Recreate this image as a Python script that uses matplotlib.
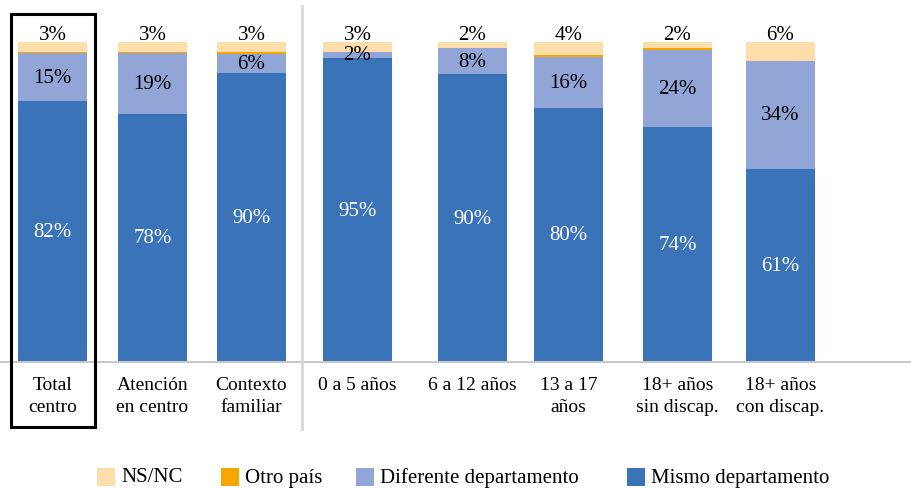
import matplotlib

matplotlib.use("Agg")
import matplotlib.pyplot as plt
import numpy as np
from matplotlib.patches import Rectangle

plt.rcParams["font.family"] = ["Liberation Serif", "DejaVu Serif"]

categories = ["Total\ncentro", "Atención\nen centro", "Contexto\nfamiliar",
              "0 a 5 años", "6 a 12 años", "13 a 17\naños",
              "18+ años\nsin discap.", "18+ años\ncon discap."]
mismo = [82, 78, 90, 95, 90, 80, 74, 61]
diferente = [15, 19, 6, 2, 8, 16, 24, 34]
otro_pais = [0.6, 0.6, 0.6, 0, 0, 0.6, 0.6, 0]
ns_nc = [3, 3, 3, 3, 2, 4, 2, 6]

BLUE, LIGHTBLUE, ORANGE, CREAM = "#3A73B8", "#91A6D6", "#F7A600", "#FDDDAA"

# bar centres in pixel units (the original spacing is slightly uneven)
centers = [52.5, 152.5, 251.5, 357.5, 472.5, 568.5, 677.5, 780.5]
W, H = 912, 489
base_px, top_px = 363, 43


def main():
    fig = plt.figure(figsize=(W / 100, H / 100), dpi=100)
    ax = fig.add_axes([0, (H - base_px) / H, 1, (base_px - top_px) / H])
    ax.set_xlim(0, W)
    ax.set_ylim(0, 100)

    # 100 % stacked columns
    vals = np.array([mismo, diferente, otro_pais, ns_nc], dtype=float)
    shares = vals / vals.sum(axis=0) * 100
    colors = [BLUE, LIGHTBLUE, ORANGE, CREAM]
    bottom = np.zeros(len(categories))
    for row, c in zip(shares, colors):
        ax.bar(centers, row, width=69, bottom=bottom, color=c, linewidth=0)
        bottom += row

    for i, x in enumerate(centers):
        m, d = shares[0][i], shares[1][i]
        ax.text(x, m / 2, f"{mismo[i]}%", ha="center", va="center",
                fontsize=15, color="white")
        ax.text(x, m + d / 2, f"{diferente[i]}%", ha="center", va="center",
                fontsize=15, color="black")
        ax.text(x, 102.4, f"{ns_nc[i]}%", ha="center", va="center",
                fontsize=15, color="black", clip_on=False)

    for s in ("top", "right", "left"):
        ax.spines[s].set_visible(False)
    ax.spines["bottom"].set_color("#C8C8C8")
    ax.spines["bottom"].set_linewidth(1.4)
    ax.set_yticks([])
    ax.set_xticks(centers, categories, fontsize=14, linespacing=1.4)
    ax.tick_params(axis="x", length=0, pad=10)
    ax.set_facecolor("none")

    # overlay in pixel coordinates for the frame, divider and legend
    ov = fig.add_axes([0, 0, 1, 1])
    ov.set_xlim(0, W)
    ov.set_ylim(H, 0)
    ov.axis("off")
    ov.add_patch(Rectangle((11, 15), 84, 413, fill=False, edgecolor="black",
                           linewidth=2.2))
    ov.plot([302, 302], [7, 430], color="#D6D6D6", linewidth=2)

    legend_items = [("NS/NC", CREAM, 97), ("Otro país", ORANGE, 221),
                    ("Diferente departamento", LIGHTBLUE, 356),
                    ("Mismo departamento", BLUE, 627)]
    for label, c, x0 in legend_items:
        ov.add_patch(Rectangle((x0, 469), 18, 18, facecolor=c, edgecolor="none"))
        ov.text(x0 + 24, 478, label, ha="left", va="center", fontsize=15)

    fig.savefig("out.png", dpi=100)


if __name__ == "__main__":
    main()
